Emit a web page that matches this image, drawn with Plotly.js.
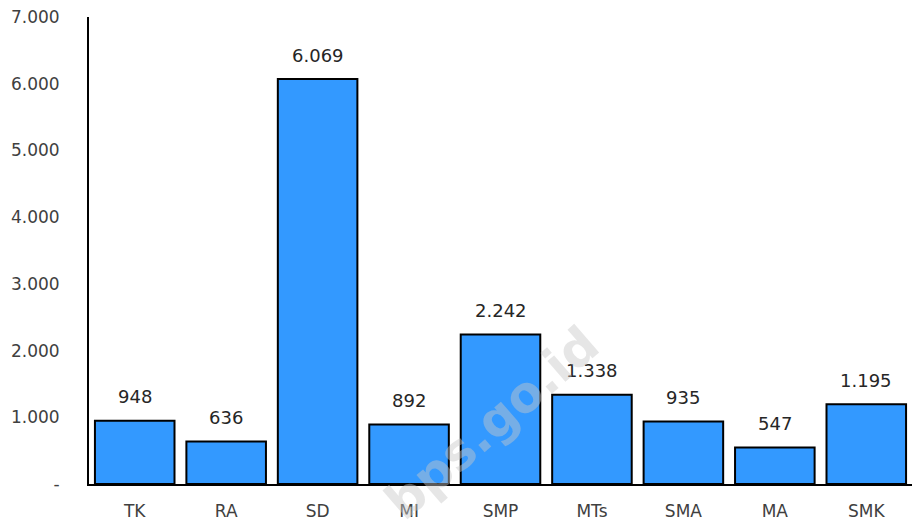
<!DOCTYPE html>
<html><head><meta charset="utf-8">
<script src="https://cdn.plot.ly/plotly-3.0.1.min.js"></script>
<style>html,body{margin:0;padding:0;background:#fff}#chart{width:914px;height:524px}</style>
</head><body><div id="chart"></div>
<script>
const categories = ["TK","RA","SD","MI","SMP","MTs","SMA","MA","SMK"];
const values = [948, 636, 6069, 892, 2242, 1338, 935, 547, 1195];
const tickVals = [0,1000,2000,3000,4000,5000,6000,7000];
const tickText = ["-","1.000","2.000","3.000","4.000","5.000","6.000","7.000"];
const labels = values.map(v => v.toLocaleString('de-DE'));

const FONT = '"DejaVu Sans", "Open Sans", sans-serif';

const trace = {
  type: 'bar', x: categories, y: values,
  marker: {color: '#3399FF', line: {color: '#000', width: 2}},
  hoverinfo: 'none'
};

const dataLabels = categories.map((c, i) => ({
  x: c, y: values[i], xref: 'x', yref: 'y', text: labels[i],
  showarrow: false, yanchor: 'middle', yshift: 24,
  font: {family: FONT, size: 18, color: '#262626'}
}));

const watermark = {
  text: 'bps.go.id', xref: 'paper', yref: 'paper', x: 0.49, y: 0.13,
  xanchor: 'center', yanchor: 'middle',
  showarrow: false, textangle: -41,
  font: {size: 50, color: 'rgba(200,200,200,0.45)', family: '"DejaVu Sans", sans-serif', weight: 'bold'}
};

const layout = {
  width: 914, height: 524,
  margin: {l: 89, r: 2, t: 17, b: 40},
  paper_bgcolor: '#fff', plot_bgcolor: '#fff',
  bargap: 0.13, showlegend: false,
  font: {family: FONT, size: 17, color: '#404040'},
  xaxis: {showline: true, linecolor: '#000', linewidth: 2, ticks: '', showgrid: false,
          ticklabelstandoff: 11, tickfont: {size: 17, color: '#404040'}},
  yaxis: {range: [0, 7000], tickvals: tickVals, ticktext: tickText, showgrid: false,
          zeroline: false, showline: true, linecolor: '#000', linewidth: 2, ticks: '',
          ticklabelstandoff: 24, tickfont: {size: 17, color: '#404040'}},
  annotations: dataLabels.concat([watermark])
};
Plotly.newPlot('chart', [trace], layout, {staticPlot: true});
</script></body></html>
